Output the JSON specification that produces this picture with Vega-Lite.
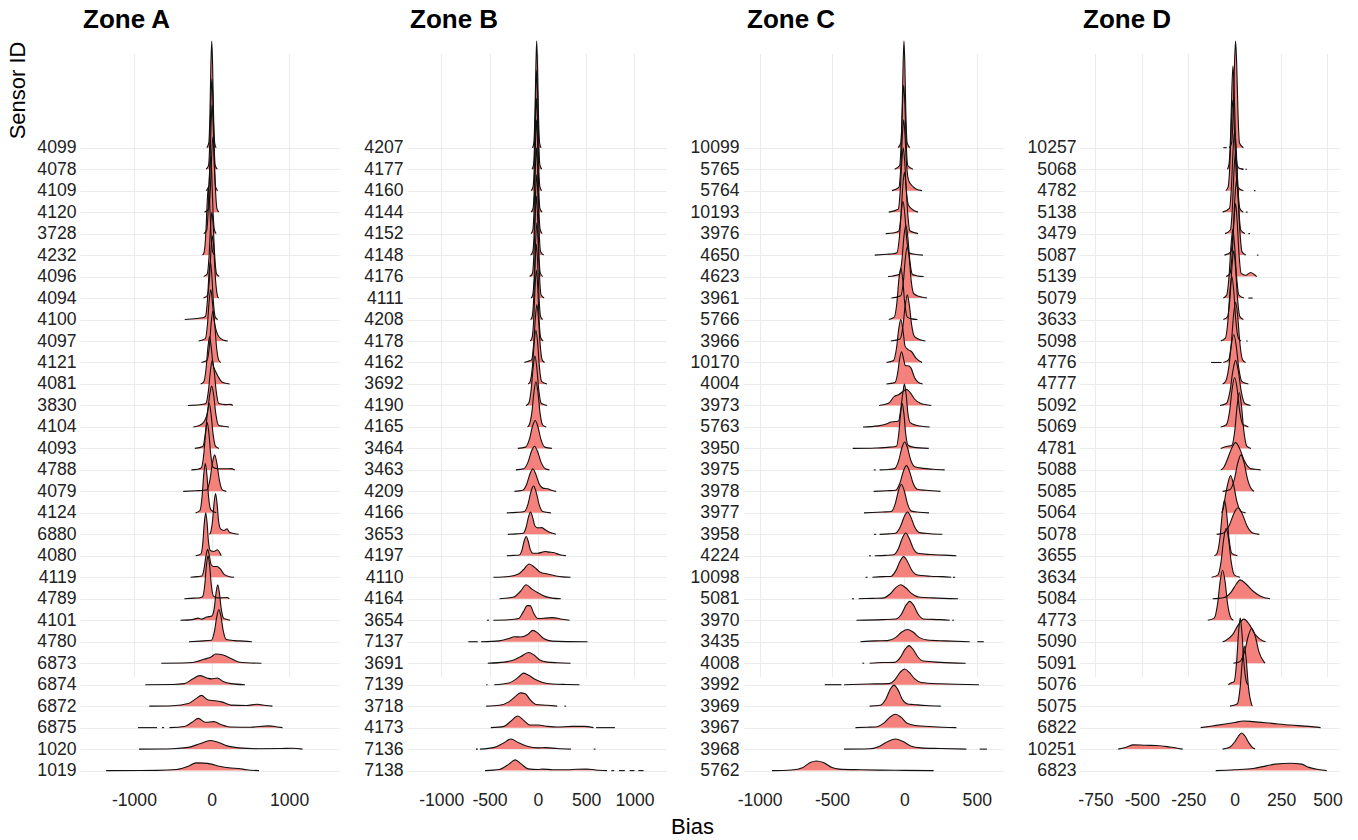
{
"$schema":"https://vega.github.io/schema/vega-lite/v6.json",
"padding":{"left":6,"right":8,"top":6,"bottom":2},
"autosize":{"type":"pad"},
"config":{"font":"Liberation Sans","view":{"stroke":null},
"axis":{"labelFont":"Liberation Sans","labelFontSize":17.6,"labelColor":"#222222","ticks":false,"domain":false,"grid":true,"gridColor":"#EBEBEB","gridWidth":1.1,"titleFont":"Liberation Sans","titleFontSize":22,"titleFontWeight":"normal","titleColor":"#000000"}},
"title":{"text":"Bias","orient":"bottom","anchor":"middle","fontSize":22,"fontWeight":"normal","color":"#000000","font":"Liberation Sans","offset":8,"dx":18},
"spacing":24,
"datasets":{
"A":[
{"s":"4099","x":-60,"d":0},{"s":"4099","x":-35,"d":0.22},{"s":"4099","x":-20,"d":1.61},{"s":"4099","x":-8,"d":3.88},{"s":"4099","x":3,"d":4.95},{"s":"4099","x":14,"d":3.88},{"s":"4099","x":26,"d":1.61},{"s":"4099","x":41,"d":0.22},{"s":"4099","x":60,"d":0},
{"s":"4078","x":-70,"d":0},{"s":"4078","x":-38,"d":0.18},{"s":"4078","x":-21,"d":1.37},{"s":"4078","x":-7,"d":3.29},{"s":"4078","x":5,"d":4.2},{"s":"4078","x":17,"d":3.29},{"s":"4078","x":31,"d":1.37},{"s":"4078","x":48,"d":0.18},{"s":"4078","x":75,"d":0},
{"s":"4109","x":-70,"d":0},{"s":"4109","x":-37,"d":0.18},{"s":"4109","x":-19,"d":1.3},{"s":"4109","x":-5,"d":3.13},{"s":"4109","x":8,"d":4},{"s":"4109","x":21,"d":3.13},{"s":"4109","x":35,"d":1.3},{"s":"4109","x":53,"d":0.18},{"s":"4109","x":80,"d":0},
{"s":"4120","x":-90,"d":0},{"s":"4120","x":-35,"d":0.15},{"s":"4120","x":-14,"d":1.14},{"s":"4120","x":3,"d":2.74},{"s":"4120","x":18,"d":3.5},{"s":"4120","x":33,"d":2.74},{"s":"4120","x":50,"d":1.14},{"s":"4120","x":71,"d":0.15},{"s":"4120","x":95,"d":0},
{"s":"3728","x":-100,"d":0},{"s":"3728","x":-62,"d":0.16},{"s":"3728","x":-42,"d":1.17},{"s":"3728","x":-26,"d":2.82},{"s":"3728","x":-12,"d":3.6},{"s":"3728","x":2,"d":2.82},{"s":"3728","x":18,"d":1.17},{"s":"3728","x":38,"d":0.16},{"s":"3728","x":60,"d":0},
{"s":"4232","x":-115,"d":0},{"s":"4232","x":-95,"d":0.14},{"s":"4232","x":-73,"d":1.04},{"s":"4232","x":-55,"d":2.51},{"s":"4232","x":-40,"d":3.2},{"s":"4232","x":-25,"d":2.51},{"s":"4232","x":-7,"d":1.04},{"s":"4232","x":15,"d":0.14},{"s":"4232","x":45,"d":0},
{"s":"4096","x":-100,"d":0},{"s":"4096","x":-55,"d":0.13},{"s":"4096","x":-31,"d":0.98},{"s":"4096","x":-12,"d":2.35},{"s":"4096","x":5,"d":3},{"s":"4096","x":22,"d":2.35},{"s":"4096","x":41,"d":0.98},{"s":"4096","x":65,"d":0.13},{"s":"4096","x":100,"d":0},
{"s":"4094","x":-105,"d":0},{"s":"4094","x":-51,"d":0.13},{"s":"4094","x":-26,"d":0.94},{"s":"4094","x":-6,"d":2.27},{"s":"4094","x":12,"d":2.9},{"s":"4094","x":30,"d":2.27},{"s":"4094","x":50,"d":0.94},{"s":"4094","x":75,"d":0.13},{"s":"4094","x":90,"d":0},
{"s":"4100","x":-345,"d":0},{"s":"4100","x":-220,"d":0.04},{"s":"4100","x":-115,"d":0.08},{"s":"4100","x":-78,"d":0.15},{"s":"4100","x":-53,"d":0.88},{"s":"4100","x":-33,"d":2.11},{"s":"4100","x":-15,"d":2.7},{"s":"4100","x":3,"d":2.11},{"s":"4100","x":23,"d":0.88},{"s":"4100","x":48,"d":0.12},{"s":"4100","x":80,"d":0},
{"s":"4097","x":-165,"d":0},{"s":"4097","x":-80,"d":0.11},{"s":"4097","x":-52,"d":0.78},{"s":"4097","x":-30,"d":1.88},{"s":"4097","x":-10,"d":2.4},{"s":"4097","x":10,"d":1.88},{"s":"4097","x":32,"d":1},{"s":"4097","x":60,"d":0.5},{"s":"4097","x":95,"d":0.2},{"s":"4097","x":150,"d":0.05},{"s":"4097","x":210,"d":0},
{"s":"4121","x":-130,"d":0},{"s":"4121","x":-57,"d":0.11},{"s":"4121","x":-27,"d":0.78},{"s":"4121","x":-3,"d":1.88},{"s":"4121","x":18,"d":2.4},{"s":"4121","x":39,"d":1.88},{"s":"4121","x":63,"d":0.78},{"s":"4121","x":93,"d":0.11},{"s":"4121","x":120,"d":0},
{"s":"4081","x":-140,"d":0},{"s":"4081","x":-100,"d":0.1},{"s":"4081","x":-70,"d":0.72},{"s":"4081","x":-46,"d":1.72},{"s":"4081","x":-25,"d":2.2},{"s":"4081","x":-4,"d":1.72},{"s":"4081","x":20,"d":0.9},{"s":"4081","x":50,"d":0.6},{"s":"4081","x":85,"d":0.35},{"s":"4081","x":140,"d":0.08},{"s":"4081","x":235,"d":0},
{"s":"3830","x":-305,"d":0},{"s":"3830","x":-150,"d":0.03},{"s":"3830","x":-73,"d":0.09},{"s":"3830","x":-40,"d":0.68},{"s":"3830","x":-13,"d":1.64},{"s":"3830","x":10,"d":2.1},{"s":"3830","x":33,"d":1.64},{"s":"3830","x":60,"d":0.68},{"s":"3830","x":93,"d":0.09},{"s":"3830","x":180,"d":0.04},{"s":"3830","x":245,"d":0.05},{"s":"3830","x":275,"d":0},
{"s":"4104","x":-235,"d":0},{"s":"4104","x":-150,"d":0.08},{"s":"4104","x":-86,"d":0.3},{"s":"4104","x":-51,"d":0.7},{"s":"4104","x":-23,"d":1.5},{"s":"4104","x":2,"d":1.9},{"s":"4104","x":27,"d":1.5},{"s":"4104","x":55,"d":0.62},{"s":"4104","x":90,"d":0.08},{"s":"4104","x":150,"d":0.03},{"s":"4104","x":225,"d":0},
{"s":"4093","x":-215,"d":0},{"s":"4093","x":-113,"d":0.09},{"s":"4093","x":-80,"d":0.68},{"s":"4093","x":-53,"d":1.64},{"s":"4093","x":-30,"d":2.1},{"s":"4093","x":-7,"d":1.64},{"s":"4093","x":20,"d":0.68},{"s":"4093","x":53,"d":0.09},{"s":"4093","x":95,"d":0},
{"s":"4788","x":-260,"d":0},{"s":"4788","x":-180,"d":0.03},{"s":"4788","x":-130,"d":0.1},{"s":"4788","x":-100,"d":0.72},{"s":"4788","x":-76,"d":1.72},{"s":"4788","x":-55,"d":2.2},{"s":"4788","x":-34,"d":1.72},{"s":"4788","x":-10,"d":0.72},{"s":"4788","x":20,"d":0.12},{"s":"4788","x":80,"d":0.05},{"s":"4788","x":200,"d":0.05},{"s":"4788","x":250,"d":0.06},{"s":"4788","x":300,"d":0},
{"s":"4079","x":-365,"d":0},{"s":"4079","x":-200,"d":0.03},{"s":"4079","x":-100,"d":0.05},{"s":"4079","x":-60,"d":0.07},{"s":"4079","x":-20,"d":0.55},{"s":"4079","x":12,"d":1.33},{"s":"4079","x":40,"d":1.7},{"s":"4079","x":68,"d":1.33},{"s":"4079","x":100,"d":0.55},{"s":"4079","x":140,"d":0.07},{"s":"4079","x":190,"d":0},
{"s":"4124","x":-205,"d":0},{"s":"4124","x":-150,"d":0.1},{"s":"4124","x":-122,"d":0.75},{"s":"4124","x":-100,"d":1.8},{"s":"4124","x":-80,"d":2.3},{"s":"4124","x":-60,"d":1.8},{"s":"4124","x":-38,"d":0.75},{"s":"4124","x":-10,"d":0.15},{"s":"4124","x":30,"d":0.05},{"s":"4124","x":60,"d":0},
{"s":"6880","x":-25,"d":0},{"s":"6880","x":-13,"d":0.08},{"s":"6880","x":13,"d":0.62},{"s":"6880","x":34,"d":1.49},{"s":"6880","x":52,"d":1.9},{"s":"6880","x":70,"d":1.49},{"s":"6880","x":91,"d":0.62},{"s":"6880","x":117,"d":0.25},{"s":"6880","x":160,"d":0.18},{"s":"6880","x":200,"d":0.26},{"s":"6880","x":230,"d":0.1},{"s":"6880","x":290,"d":0.04},{"s":"6880","x":350,"d":0},
{"s":"4080","x":-205,"d":0},{"s":"4080","x":-135,"d":0.09},{"s":"4080","x":-111,"d":0.65},{"s":"4080","x":-92,"d":1.57},{"s":"4080","x":-75,"d":2},{"s":"4080","x":-58,"d":1.57},{"s":"4080","x":-39,"d":0.65},{"s":"4080","x":-15,"d":0.25},{"s":"4080","x":30,"d":0.2},{"s":"4080","x":75,"d":0.28},{"s":"4080","x":105,"d":0.15},{"s":"4080","x":125,"d":0},
{"s":"4119","x":-270,"d":0},{"s":"4119","x":-180,"d":0.03},{"s":"4119","x":-125,"d":0.06},{"s":"4119","x":-95,"d":0.42},{"s":"4119","x":-71,"d":1.02},{"s":"4119","x":-50,"d":1.3},{"s":"4119","x":-29,"d":1.02},{"s":"4119","x":-5,"d":0.6},{"s":"4119","x":25,"d":0.5},{"s":"4119","x":70,"d":0.5},{"s":"4119","x":110,"d":0.4},{"s":"4119","x":160,"d":0.15},{"s":"4119","x":220,"d":0.04},{"s":"4119","x":290,"d":0},
{"s":"4789","x":-350,"d":0},{"s":"4789","x":-220,"d":0.03},{"s":"4789","x":-150,"d":0.05},{"s":"4789","x":-115,"d":0.09},{"s":"4789","x":-87,"d":0.65},{"s":"4789","x":-65,"d":1.57},{"s":"4789","x":-45,"d":2},{"s":"4789","x":-25,"d":1.57},{"s":"4789","x":-3,"d":0.65},{"s":"4789","x":25,"d":0.12},{"s":"4789","x":80,"d":0.04},{"s":"4789","x":200,"d":0.06},{"s":"4789","x":230,"d":0},
{"s":"4101","x":-400,"d":0},{"s":"4101","x":-250,"d":0.03},{"s":"4101","x":-170,"d":0.1},{"s":"4101","x":-130,"d":0.05},{"s":"4101","x":-60,"d":0.15},{"s":"4101","x":5,"d":0.2},{"s":"4101","x":35,"d":0.55},{"s":"4101","x":59,"d":1.29},{"s":"4101","x":80,"d":1.65},{"s":"4101","x":101,"d":1.29},{"s":"4101","x":125,"d":0.54},{"s":"4101","x":155,"d":0.1},{"s":"4101","x":190,"d":0.05},{"s":"4101","x":240,"d":0},
{"s":"4780","x":-290,"d":0},{"s":"4780","x":-150,"d":0.03},{"s":"4780","x":0,"d":0.07},{"s":"4780","x":38,"d":0.49},{"s":"4780","x":68,"d":1.17},{"s":"4780","x":95,"d":1.5},{"s":"4780","x":122,"d":1.17},{"s":"4780","x":152,"d":0.49},{"s":"4780","x":190,"d":0.1},{"s":"4780","x":300,"d":0.05},{"s":"4780","x":420,"d":0.03},{"s":"4780","x":520,"d":0},
{"s":"6873","x":-647,"d":0},{"s":"6873","x":-300,"d":0.02},{"s":"6873","x":-185,"d":0.08},{"s":"6873","x":-100,"d":0.18},{"s":"6873","x":0,"d":0.3},{"s":"6873","x":50,"d":0.43},{"s":"6873","x":150,"d":0.38},{"s":"6873","x":250,"d":0.22},{"s":"6873","x":350,"d":0.06},{"s":"6873","x":450,"d":0.02},{"s":"6873","x":643,"d":0},
{"s":"6874","x":-853,"d":0},{"s":"6874","x":-500,"d":0.01},{"s":"6874","x":-350,"d":0.05},{"s":"6874","x":-250,"d":0.25},{"s":"6874","x":-150,"d":0.42},{"s":"6874","x":-50,"d":0.3},{"s":"6874","x":0,"d":0.27},{"s":"6874","x":75,"d":0.31},{"s":"6874","x":150,"d":0.15},{"s":"6874","x":250,"d":0.05},{"s":"6874","x":431,"d":0},
{"s":"6872","x":-802,"d":0},{"s":"6872","x":-500,"d":0.02},{"s":"6872","x":-300,"d":0.12},{"s":"6872","x":-200,"d":0.35},{"s":"6872","x":-130,"d":0.5},{"s":"6872","x":-50,"d":0.3},{"s":"6872","x":50,"d":0.25},{"s":"6872","x":130,"d":0.2},{"s":"6872","x":250,"d":0.05},{"s":"6872","x":450,"d":0.03},{"s":"6872","x":590,"d":0.09},{"s":"6872","x":700,"d":0.03},{"s":"6872","x":785,"d":0},
{"s":"6875","x":-543,"d":0},{"s":"6875","x":-350,"d":0.05},{"s":"6875","x":-250,"d":0.25},{"s":"6875","x":-170,"d":0.43},{"s":"6875","x":-80,"d":0.25},{"s":"6875","x":30,"d":0.28},{"s":"6875","x":120,"d":0.15},{"s":"6875","x":250,"d":0.03},{"s":"6875","x":500,"d":0.02},{"s":"6875","x":740,"d":0.08},{"s":"6875","x":850,"d":0.03},{"s":"6875","x":915,"d":0},
{"s":"6875","g":1,"x":-948,"d":0},{"s":"6875","g":1,"x":-702,"d":0},{"s":"6875","g":2,"x":-640,"d":0},{"s":"6875","g":2,"x":-610,"d":0},
{"s":"1020","x":-935,"d":0},{"s":"1020","x":-500,"d":0.02},{"s":"1020","x":-300,"d":0.08},{"s":"1020","x":-150,"d":0.25},{"s":"1020","x":-13,"d":0.4},{"s":"1020","x":100,"d":0.3},{"s":"1020","x":200,"d":0.15},{"s":"1020","x":350,"d":0.06},{"s":"1020","x":600,"d":0.02},{"s":"1020","x":900,"d":0.03},{"s":"1020","x":1050,"d":0.04},{"s":"1020","x":1173,"d":0},
{"s":"1019","x":-1358,"d":0},{"s":"1019","x":-700,"d":0.01},{"s":"1019","x":-450,"d":0.05},{"s":"1019","x":-300,"d":0.2},{"s":"1019","x":-200,"d":0.36},{"s":"1019","x":-100,"d":0.35},{"s":"1019","x":0,"d":0.3},{"s":"1019","x":100,"d":0.2},{"s":"1019","x":250,"d":0.12},{"s":"1019","x":350,"d":0.1},{"s":"1019","x":450,"d":0.04},{"s":"1019","x":612,"d":0}
],
"B":[
{"s":"4207","x":-56,"d":0},{"s":"4207","x":-42,"d":0.22},{"s":"4207","x":-30,"d":1.62},{"s":"4207","x":-20,"d":3.89},{"s":"4207","x":-12,"d":4.97},{"s":"4207","x":-4,"d":3.89},{"s":"4207","x":6,"d":1.62},{"s":"4207","x":18,"d":0.22},{"s":"4207","x":34,"d":0},
{"s":"4177","x":-60,"d":0},{"s":"4177","x":-45,"d":0.2},{"s":"4177","x":-32,"d":1.5},{"s":"4177","x":-21,"d":3.6},{"s":"4177","x":-12,"d":4.6},{"s":"4177","x":-3,"d":3.6},{"s":"4177","x":8,"d":1.5},{"s":"4177","x":21,"d":0.2},{"s":"4177","x":40,"d":0},
{"s":"4160","x":-70,"d":0},{"s":"4160","x":-49,"d":0.19},{"s":"4160","x":-35,"d":1.4},{"s":"4160","x":-24,"d":3.37},{"s":"4160","x":-14,"d":4.3},{"s":"4160","x":-4,"d":3.37},{"s":"4160","x":7,"d":1.4},{"s":"4160","x":21,"d":0.19},{"s":"4160","x":40,"d":0},
{"s":"4144","x":-70,"d":0},{"s":"4144","x":-49,"d":0.19},{"s":"4144","x":-35,"d":1.4},{"s":"4144","x":-24,"d":3.37},{"s":"4144","x":-14,"d":4.3},{"s":"4144","x":-4,"d":3.37},{"s":"4144","x":7,"d":1.4},{"s":"4144","x":21,"d":0.19},{"s":"4144","x":45,"d":0},
{"s":"4152","x":-70,"d":0},{"s":"4152","x":-52,"d":0.18},{"s":"4152","x":-37,"d":1.3},{"s":"4152","x":-25,"d":3.13},{"s":"4152","x":-14,"d":4},{"s":"4152","x":-4,"d":3.13},{"s":"4152","x":9,"d":1.3},{"s":"4152","x":24,"d":0.18},{"s":"4152","x":45,"d":0},
{"s":"4148","x":-75,"d":0},{"s":"4148","x":-52,"d":0.17},{"s":"4148","x":-36,"d":1.22},{"s":"4148","x":-23,"d":2.94},{"s":"4148","x":-12,"d":3.75},{"s":"4148","x":-1,"d":2.94},{"s":"4148","x":12,"d":1.22},{"s":"4148","x":28,"d":0.17},{"s":"4148","x":60,"d":0},
{"s":"4176","x":-85,"d":0},{"s":"4176","x":-55,"d":0.17},{"s":"4176","x":-39,"d":1.22},{"s":"4176","x":-26,"d":2.94},{"s":"4176","x":-15,"d":3.75},{"s":"4176","x":-4,"d":2.94},{"s":"4176","x":9,"d":1.22},{"s":"4176","x":25,"d":0.17},{"s":"4176","x":50,"d":0},
{"s":"4111","x":-70,"d":0},{"s":"4111","x":-53,"d":0.15},{"s":"4111","x":-36,"d":1.14},{"s":"4111","x":-22,"d":2.74},{"s":"4111","x":-10,"d":3.5},{"s":"4111","x":2,"d":2.74},{"s":"4111","x":16,"d":1.14},{"s":"4111","x":33,"d":0.15},{"s":"4111","x":65,"d":0},
{"s":"4208","x":-75,"d":0},{"s":"4208","x":-58,"d":0.15},{"s":"4208","x":-41,"d":1.14},{"s":"4208","x":-27,"d":2.74},{"s":"4208","x":-15,"d":3.5},{"s":"4208","x":-3,"d":2.74},{"s":"4208","x":11,"d":1.14},{"s":"4208","x":28,"d":0.15},{"s":"4208","x":50,"d":0},
{"s":"4178","x":-80,"d":0},{"s":"4178","x":-60,"d":0.15},{"s":"4178","x":-42,"d":1.07},{"s":"4178","x":-28,"d":2.58},{"s":"4178","x":-15,"d":3.3},{"s":"4178","x":-2,"d":2.58},{"s":"4178","x":12,"d":1.07},{"s":"4178","x":30,"d":0.15},{"s":"4178","x":55,"d":0},
{"s":"4162","x":-140,"d":0},{"s":"4162","x":-100,"d":0.06},{"s":"4162","x":-65,"d":0.12},{"s":"4162","x":-43,"d":0.88},{"s":"4162","x":-25,"d":2.11},{"s":"4162","x":-10,"d":2.7},{"s":"4162","x":5,"d":2.11},{"s":"4162","x":23,"d":0.88},{"s":"4162","x":45,"d":0.12},{"s":"4162","x":70,"d":0},
{"s":"3692","x":-100,"d":0},{"s":"3692","x":-80,"d":0.11},{"s":"3692","x":-56,"d":0.81},{"s":"3692","x":-37,"d":1.96},{"s":"3692","x":-20,"d":2.5},{"s":"3692","x":-3,"d":1.96},{"s":"3692","x":16,"d":0.81},{"s":"3692","x":40,"d":0.11},{"s":"3692","x":95,"d":0},
{"s":"4190","x":-122,"d":0},{"s":"4190","x":-95,"d":0.1},{"s":"4190","x":-69,"d":0.75},{"s":"4190","x":-48,"d":1.8},{"s":"4190","x":-30,"d":2.3},{"s":"4190","x":-12,"d":1.8},{"s":"4190","x":9,"d":0.75},{"s":"4190","x":35,"d":0.1},{"s":"4190","x":96,"d":0},
{"s":"4165","x":-107,"d":0},{"s":"4165","x":-90,"d":0.09},{"s":"4165","x":-62,"d":0.68},{"s":"4165","x":-40,"d":1.64},{"s":"4165","x":-20,"d":2.1},{"s":"4165","x":0,"d":1.64},{"s":"4165","x":22,"d":0.68},{"s":"4165","x":50,"d":0.09},{"s":"4165","x":86,"d":0},
{"s":"3464","x":-207,"d":0},{"s":"3464","x":-128,"d":0.06},{"s":"3464","x":-88,"d":0.42},{"s":"3464","x":-56,"d":1.02},{"s":"3464","x":-28,"d":1.3},{"s":"3464","x":0,"d":1.02},{"s":"3464","x":32,"d":0.42},{"s":"3464","x":72,"d":0.06},{"s":"3464","x":145,"d":0},
{"s":"3463","x":-228,"d":0},{"s":"3463","x":-147,"d":0.05},{"s":"3463","x":-102,"d":0.36},{"s":"3463","x":-67,"d":0.86},{"s":"3463","x":-35,"d":1.1},{"s":"3463","x":-3,"d":0.86},{"s":"3463","x":33,"d":0.36},{"s":"3463","x":78,"d":0.05},{"s":"3463","x":120,"d":0},
{"s":"4209","x":-242,"d":0},{"s":"4209","x":-157,"d":0.05},{"s":"4209","x":-115,"d":0.34},{"s":"4209","x":-81,"d":0.82},{"s":"4209","x":-52,"d":1.05},{"s":"4209","x":-23,"d":0.82},{"s":"4209","x":11,"d":0.38},{"s":"4209","x":53,"d":0.15},{"s":"4209","x":100,"d":0.12},{"s":"4209","x":150,"d":0.04},{"s":"4209","x":190,"d":0},
{"s":"4166","x":-321,"d":0},{"s":"4166","x":-220,"d":0.02},{"s":"4166","x":-140,"d":0.06},{"s":"4166","x":-102,"d":0.41},{"s":"4166","x":-72,"d":0.98},{"s":"4166","x":-45,"d":1.25},{"s":"4166","x":-18,"d":0.98},{"s":"4166","x":12,"d":0.41},{"s":"4166","x":50,"d":0.06},{"s":"4166","x":135,"d":0},
{"s":"3653","x":-311,"d":0},{"s":"3653","x":-220,"d":0.02},{"s":"3653","x":-151,"d":0.05},{"s":"3653","x":-121,"d":0.34},{"s":"3653","x":-97,"d":0.81},{"s":"3653","x":-76,"d":1.04},{"s":"3653","x":-55,"d":0.81},{"s":"3653","x":-31,"d":0.4},{"s":"3653","x":-1,"d":0.3},{"s":"3653","x":37,"d":0.31},{"s":"3653","x":80,"d":0.2},{"s":"3653","x":130,"d":0.08},{"s":"3653","x":187,"d":0},
{"s":"4197","x":-321,"d":0},{"s":"4197","x":-250,"d":0.02},{"s":"4197","x":-191,"d":0.04},{"s":"4197","x":-163,"d":0.29},{"s":"4197","x":-141,"d":0.7},{"s":"4197","x":-121,"d":0.9},{"s":"4197","x":-101,"d":0.7},{"s":"4197","x":-79,"d":0.3},{"s":"4197","x":-51,"d":0.12},{"s":"4197","x":0,"d":0.12},{"s":"4197","x":76,"d":0.2},{"s":"4197","x":120,"d":0.17},{"s":"4197","x":162,"d":0.15},{"s":"4197","x":220,"d":0.06},{"s":"4197","x":293,"d":0},
{"s":"4110","x":-460,"d":0},{"s":"4110","x":-300,"d":0.04},{"s":"4110","x":-200,"d":0.15},{"s":"4110","x":-150,"d":0.35},{"s":"4110","x":-90,"d":0.62},{"s":"4110","x":-30,"d":0.45},{"s":"4110","x":20,"d":0.25},{"s":"4110","x":100,"d":0.15},{"s":"4110","x":200,"d":0.05},{"s":"4110","x":338,"d":0},
{"s":"4164","x":-397,"d":0},{"s":"4164","x":-250,"d":0.08},{"s":"4164","x":-180,"d":0.35},{"s":"4164","x":-121,"d":0.65},{"s":"4164","x":-60,"d":0.45},{"s":"4164","x":0,"d":0.28},{"s":"4164","x":80,"d":0.1},{"s":"4164","x":150,"d":0.03},{"s":"4164","x":238,"d":0},
{"s":"3654","x":-460,"d":0},{"s":"3654","x":-300,"d":0.02},{"s":"3654","x":-200,"d":0.08},{"s":"3654","x":-150,"d":0.4},{"s":"3654","x":-110,"d":0.68},{"s":"3654","x":-80,"d":0.68},{"s":"3654","x":-40,"d":0.3},{"s":"3654","x":0,"d":0.08},{"s":"3654","x":80,"d":0.1},{"s":"3654","x":150,"d":0.12},{"s":"3654","x":250,"d":0.05},{"s":"3654","x":328,"d":0},
{"s":"3654","g":1,"x":-525,"d":0},{"s":"3654","g":1,"x":-505,"d":0},
{"s":"7137","x":-588,"d":0},{"s":"7137","x":-400,"d":0.04},{"s":"7137","x":-300,"d":0.15},{"s":"7137","x":-243,"d":0.23},{"s":"7137","x":-180,"d":0.22},{"s":"7137","x":-100,"d":0.35},{"s":"7137","x":-52,"d":0.53},{"s":"7137","x":0,"d":0.4},{"s":"7137","x":60,"d":0.15},{"s":"7137","x":150,"d":0.03},{"s":"7137","x":514,"d":0},
{"s":"7137","g":1,"x":-719,"d":0},{"s":"7137","g":1,"x":-622,"d":0},
{"s":"3691","x":-518,"d":0},{"s":"3691","x":-350,"d":0.05},{"s":"3691","x":-250,"d":0.15},{"s":"3691","x":-180,"d":0.3},{"s":"3691","x":-97,"d":0.5},{"s":"3691","x":-40,"d":0.38},{"s":"3691","x":20,"d":0.15},{"s":"3691","x":100,"d":0.05},{"s":"3691","x":200,"d":0.02},{"s":"3691","x":338,"d":0},
{"s":"7139","x":-451,"d":0},{"s":"7139","x":-300,"d":0.08},{"s":"7139","x":-200,"d":0.35},{"s":"7139","x":-149,"d":0.54},{"s":"7139","x":-100,"d":0.45},{"s":"7139","x":-30,"d":0.25},{"s":"7139","x":50,"d":0.1},{"s":"7139","x":150,"d":0.03},{"s":"7139","x":300,"d":0.01},{"s":"7139","x":431,"d":0},
{"s":"7139","g":1,"x":-535,"d":0},{"s":"7139","g":1,"x":-520,"d":0},
{"s":"3718","x":-534,"d":0},{"s":"3718","x":-400,"d":0.04},{"s":"3718","x":-300,"d":0.2},{"s":"3718","x":-220,"d":0.5},{"s":"3718","x":-180,"d":0.62},{"s":"3718","x":-130,"d":0.58},{"s":"3718","x":-80,"d":0.3},{"s":"3718","x":-20,"d":0.08},{"s":"3718","x":100,"d":0.04},{"s":"3718","x":200,"d":0},
{"s":"3718","g":1,"x":275,"d":0},{"s":"3718","g":1,"x":292,"d":0},
{"s":"4173","x":-487,"d":0},{"s":"4173","x":-350,"d":0.06},{"s":"4173","x":-280,"d":0.3},{"s":"4173","x":-207,"d":0.54},{"s":"4173","x":-150,"d":0.35},{"s":"4173","x":-80,"d":0.12},{"s":"4173","x":0,"d":0.12},{"s":"4173","x":100,"d":0.06},{"s":"4173","x":200,"d":0.03},{"s":"4173","x":350,"d":0.06},{"s":"4173","x":480,"d":0.06},{"s":"4173","x":576,"d":0},
{"s":"4173","g":1,"x":603,"d":0},{"s":"4173","g":1,"x":797,"d":0},
{"s":"7136","x":-598,"d":0},{"s":"7136","x":-450,"d":0.08},{"s":"7136","x":-350,"d":0.3},{"s":"7136","x":-280,"d":0.47},{"s":"7136","x":-200,"d":0.3},{"s":"7136","x":-100,"d":0.12},{"s":"7136","x":0,"d":0.06},{"s":"7136","x":80,"d":0.07},{"s":"7136","x":200,"d":0.03},{"s":"7136","x":342,"d":0},
{"s":"7136","g":1,"x":-640,"d":0},{"s":"7136","g":1,"x":-622,"d":0},{"s":"7136","g":2,"x":578,"d":0},{"s":"7136","g":2,"x":596,"d":0},
{"s":"7138","x":-546,"d":0},{"s":"7138","x":-400,"d":0.05},{"s":"7138","x":-300,"d":0.3},{"s":"7138","x":-235,"d":0.5},{"s":"7138","x":-170,"d":0.3},{"s":"7138","x":-100,"d":0.08},{"s":"7138","x":0,"d":0.05},{"s":"7138","x":50,"d":0.07},{"s":"7138","x":150,"d":0.04},{"s":"7138","x":300,"d":0.04},{"s":"7138","x":400,"d":0.06},{"s":"7138","x":500,"d":0.07},{"s":"7138","x":600,"d":0.03},{"s":"7138","x":715,"d":0},
{"s":"7138","g":1,"x":760,"d":0},{"s":"7138","g":1,"x":790,"d":0},{"s":"7138","g":2,"x":840,"d":0},{"s":"7138","g":2,"x":900,"d":0},{"s":"7138","g":3,"x":950,"d":0},{"s":"7138","g":3,"x":1000,"d":0},{"s":"7138","g":4,"x":1040,"d":0},{"s":"7138","g":4,"x":1094,"d":0}
],
"C":[
{"s":"10099","x":-44,"d":0},{"s":"10099","x":-25,"d":0.22},{"s":"10099","x":-16,"d":1.62},{"s":"10099","x":-9,"d":3.89},{"s":"10099","x":-3,"d":4.97},{"s":"10099","x":3,"d":3.89},{"s":"10099","x":10,"d":1.62},{"s":"10099","x":19,"d":0.22},{"s":"10099","x":37,"d":0},
{"s":"5765","x":-67,"d":0},{"s":"5765","x":-33,"d":0.17},{"s":"5765","x":-22,"d":1.27},{"s":"5765","x":-13,"d":3.05},{"s":"5765","x":-5,"d":3.9},{"s":"5765","x":3,"d":3.05},{"s":"5765","x":12,"d":1.27},{"s":"5765","x":23,"d":0.17},{"s":"5765","x":59,"d":0},
{"s":"5764","x":-86,"d":0},{"s":"5764","x":-38,"d":0.15},{"s":"5764","x":-25,"d":1.07},{"s":"5764","x":-14,"d":2.58},{"s":"5764","x":-5,"d":3.3},{"s":"5764","x":4,"d":2.58},{"s":"5764","x":15,"d":1.2},{"s":"5764","x":28,"d":0.5},{"s":"5764","x":50,"d":0.25},{"s":"5764","x":80,"d":0.08},{"s":"5764","x":122,"d":0},
{"s":"10193","x":-108,"d":0},{"s":"10193","x":-43,"d":0.13},{"s":"10193","x":-29,"d":0.98},{"s":"10193","x":-18,"d":2.35},{"s":"10193","x":-8,"d":3},{"s":"10193","x":2,"d":2.35},{"s":"10193","x":13,"d":1.05},{"s":"10193","x":27,"d":0.35},{"s":"10193","x":50,"d":0.15},{"s":"10193","x":94,"d":0},
{"s":"3976","x":-129,"d":0},{"s":"3976","x":-70,"d":0.04},{"s":"3976","x":-38,"d":0.13},{"s":"3976","x":-23,"d":0.93},{"s":"3976","x":-11,"d":2.23},{"s":"3976","x":0,"d":2.85},{"s":"3976","x":11,"d":2.23},{"s":"3976","x":23,"d":0.93},{"s":"3976","x":38,"d":0.13},{"s":"3976","x":94,"d":0},
{"s":"4650","x":-205,"d":0},{"s":"4650","x":-120,"d":0.04},{"s":"4650","x":-80,"d":0.06},{"s":"4650","x":-52,"d":0.11},{"s":"4650","x":-35,"d":0.81},{"s":"4650","x":-22,"d":1.96},{"s":"4650","x":-10,"d":2.5},{"s":"4650","x":2,"d":1.96},{"s":"4650","x":15,"d":0.81},{"s":"4650","x":32,"d":0.11},{"s":"4650","x":70,"d":0.04},{"s":"4650","x":128,"d":0},
{"s":"4623","x":-113,"d":0},{"s":"4623","x":-35,"d":0.11},{"s":"4623","x":-17,"d":0.78},{"s":"4623","x":-3,"d":1.88},{"s":"4623","x":10,"d":2.4},{"s":"4623","x":23,"d":1.88},{"s":"4623","x":37,"d":0.78},{"s":"4623","x":55,"d":0.11},{"s":"4623","x":90,"d":0.03},{"s":"4623","x":133,"d":0},
{"s":"3961","x":-90,"d":0},{"s":"3961","x":-25,"d":0.11},{"s":"3961","x":-7,"d":0.78},{"s":"3961","x":7,"d":1.88},{"s":"3961","x":20,"d":2.4},{"s":"3961","x":33,"d":1.88},{"s":"3961","x":47,"d":0.8},{"s":"3961","x":65,"d":0.2},{"s":"3961","x":100,"d":0.08},{"s":"3961","x":156,"d":0},
{"s":"5766","x":-108,"d":0},{"s":"5766","x":-70,"d":0.11},{"s":"5766","x":-52,"d":0.78},{"s":"5766","x":-38,"d":1.88},{"s":"5766","x":-25,"d":2.4},{"s":"5766","x":-12,"d":1.88},{"s":"5766","x":2,"d":0.78},{"s":"5766","x":20,"d":0.11},{"s":"5766","x":50,"d":0.03},{"s":"5766","x":90,"d":0},
{"s":"3966","x":-94,"d":0},{"s":"3966","x":-30,"d":0.09},{"s":"3966","x":-10,"d":0.7},{"s":"3966","x":6,"d":1.68},{"s":"3966","x":20,"d":2.15},{"s":"3966","x":34,"d":1.68},{"s":"3966","x":50,"d":0.75},{"s":"3966","x":70,"d":0.2},{"s":"3966","x":100,"d":0.08},{"s":"3966","x":145,"d":0},
{"s":"10170","x":-124,"d":0},{"s":"10170","x":-75,"d":0.09},{"s":"10170","x":-55,"d":0.65},{"s":"10170","x":-39,"d":1.57},{"s":"10170","x":-25,"d":2},{"s":"10170","x":-11,"d":1.57},{"s":"10170","x":5,"d":0.75},{"s":"10170","x":25,"d":0.6},{"s":"10170","x":50,"d":0.5},{"s":"10170","x":80,"d":0.2},{"s":"10170","x":122,"d":0},
{"s":"4004","x":-124,"d":0},{"s":"4004","x":-65,"d":0.07},{"s":"4004","x":-47,"d":0.49},{"s":"4004","x":-33,"d":1.17},{"s":"4004","x":-20,"d":1.5},{"s":"4004","x":-7,"d":1.2},{"s":"4004","x":7,"d":0.85},{"s":"4004","x":25,"d":0.85},{"s":"4004","x":45,"d":0.75},{"s":"4004","x":70,"d":0.3},{"s":"4004","x":95,"d":0.08},{"s":"4004","x":126,"d":0},
{"s":"3973","x":-175,"d":0},{"s":"3973","x":-110,"d":0.1},{"s":"3973","x":-70,"d":0.42},{"s":"3973","x":-40,"d":0.5},{"s":"3973","x":0,"d":0.7},{"s":"3973","x":15,"d":0.75},{"s":"3973","x":40,"d":0.6},{"s":"3973","x":70,"d":0.3},{"s":"3973","x":110,"d":0.1},{"s":"3973","x":186,"d":0},
{"s":"5763","x":-286,"d":0},{"s":"5763","x":-180,"d":0.05},{"s":"5763","x":-120,"d":0.15},{"s":"5763","x":-92,"d":0.23},{"s":"5763","x":-60,"d":0.25},{"s":"5763","x":-40,"d":0.28},{"s":"5763","x":-24,"d":0.9},{"s":"5763","x":-11,"d":1.57},{"s":"5763","x":0,"d":2},{"s":"5763","x":11,"d":1.57},{"s":"5763","x":24,"d":0.65},{"s":"5763","x":40,"d":0.2},{"s":"5763","x":80,"d":0.08},{"s":"5763","x":175,"d":0},
{"s":"3950","x":-357,"d":0},{"s":"3950","x":-200,"d":0.02},{"s":"3950","x":-100,"d":0.06},{"s":"3950","x":-55,"d":0.1},{"s":"3950","x":-39,"d":0.68},{"s":"3950","x":-26,"d":1.64},{"s":"3950","x":-15,"d":2.1},{"s":"3950","x":-4,"d":1.64},{"s":"3950","x":9,"d":0.68},{"s":"3950","x":25,"d":0.15},{"s":"3950","x":60,"d":0.06},{"s":"3950","x":168,"d":0},
{"s":"3975","x":-171,"d":0},{"s":"3975","x":-110,"d":0.02},{"s":"3975","x":-68,"d":0.06},{"s":"3975","x":-40,"d":0.42},{"s":"3975","x":-18,"d":1.02},{"s":"3975","x":2,"d":1.3},{"s":"3975","x":22,"d":1.02},{"s":"3975","x":44,"d":0.45},{"s":"3975","x":72,"d":0.15},{"s":"3975","x":130,"d":0.07},{"s":"3975","x":200,"d":0.03},{"s":"3975","x":278,"d":0},
{"s":"3975","g":1,"x":-212,"d":0},{"s":"3975","g":1,"x":-198,"d":0},
{"s":"3978","x":-212,"d":0},{"s":"3978","x":-120,"d":0.03},{"s":"3978","x":-61,"d":0.05},{"s":"3978","x":-31,"d":0.39},{"s":"3978","x":-7,"d":0.94},{"s":"3978","x":14,"d":1.2},{"s":"3978","x":35,"d":0.94},{"s":"3978","x":59,"d":0.4},{"s":"3978","x":89,"d":0.1},{"s":"3978","x":150,"d":0.05},{"s":"3978","x":249,"d":0},
{"s":"3977","x":-279,"d":0},{"s":"3977","x":-150,"d":0.04},{"s":"3977","x":-91,"d":0.06},{"s":"3977","x":-63,"d":0.43},{"s":"3977","x":-41,"d":1.03},{"s":"3977","x":-21,"d":1.32},{"s":"3977","x":-1,"d":1.03},{"s":"3977","x":21,"d":0.43},{"s":"3977","x":49,"d":0.08},{"s":"3977","x":100,"d":0.03},{"s":"3977","x":170,"d":0},
{"s":"3958","x":-171,"d":0},{"s":"3958","x":-110,"d":0.02},{"s":"3958","x":-62,"d":0.05},{"s":"3958","x":-29,"d":0.34},{"s":"3958","x":-2,"d":0.81},{"s":"3958","x":21,"d":1.04},{"s":"3958","x":44,"d":0.81},{"s":"3958","x":71,"d":0.34},{"s":"3958","x":104,"d":0.08},{"s":"3958","x":180,"d":0.03},{"s":"3958","x":262,"d":0},
{"s":"3958","g":1,"x":-210,"d":0},{"s":"3958","g":1,"x":-195,"d":0},
{"s":"4224","x":-205,"d":0},{"s":"4224","x":-130,"d":0.02},{"s":"4224","x":-74,"d":0.05},{"s":"4224","x":-41,"d":0.34},{"s":"4224","x":-14,"d":0.83},{"s":"4224","x":9,"d":1.06},{"s":"4224","x":32,"d":0.83},{"s":"4224","x":59,"d":0.38},{"s":"4224","x":92,"d":0.12},{"s":"4224","x":180,"d":0.06},{"s":"4224","x":280,"d":0.03},{"s":"4224","x":359,"d":0},
{"s":"4224","g":1,"x":-245,"d":0},{"s":"4224","g":1,"x":-232,"d":0},
{"s":"10098","x":-221,"d":0},{"s":"10098","x":-150,"d":0.03},{"s":"10098","x":-95,"d":0.04},{"s":"10098","x":-59,"d":0.31},{"s":"10098","x":-30,"d":0.75},{"s":"10098","x":-5,"d":0.96},{"s":"10098","x":20,"d":0.75},{"s":"10098","x":49,"d":0.35},{"s":"10098","x":85,"d":0.12},{"s":"10098","x":180,"d":0.05},{"s":"10098","x":260,"d":0.03},{"s":"10098","x":324,"d":0},
{"s":"10098","g":1,"x":-268,"d":0},{"s":"10098","g":1,"x":-255,"d":0},{"s":"10098","g":2,"x":335,"d":0},{"s":"10098","g":2,"x":350,"d":0},
{"s":"5081","x":-316,"d":0},{"s":"5081","x":-220,"d":0.02},{"s":"5081","x":-151,"d":0.03},{"s":"5081","x":-101,"d":0.21},{"s":"5081","x":-61,"d":0.51},{"s":"5081","x":-26,"d":0.65},{"s":"5081","x":9,"d":0.51},{"s":"5081","x":49,"d":0.25},{"s":"5081","x":99,"d":0.08},{"s":"5081","x":200,"d":0.04},{"s":"5081","x":370,"d":0},
{"s":"5081","g":1,"x":-362,"d":0},{"s":"5081","g":1,"x":-348,"d":0},
{"s":"3970","x":-331,"d":0},{"s":"3970","x":-150,"d":0.03},{"s":"3970","x":-58,"d":0.06},{"s":"3970","x":-20,"d":0.29},{"s":"3970","x":10,"d":0.69},{"s":"3970","x":37,"d":0.88},{"s":"3970","x":64,"d":0.69},{"s":"3970","x":94,"d":0.29},{"s":"3970","x":132,"d":0.06},{"s":"3970","x":250,"d":0.03},{"s":"3970","x":313,"d":0},
{"s":"3970","g":1,"x":330,"d":0},{"s":"3970","g":1,"x":342,"d":0},
{"s":"3435","x":-304,"d":0},{"s":"3435","x":-200,"d":0.04},{"s":"3435","x":-117,"d":0.05},{"s":"3435","x":-62,"d":0.19},{"s":"3435","x":-18,"d":0.45},{"s":"3435","x":21,"d":0.57},{"s":"3435","x":60,"d":0.45},{"s":"3435","x":104,"d":0.19},{"s":"3435","x":159,"d":0.08},{"s":"3435","x":280,"d":0.04},{"s":"3435","x":451,"d":0},
{"s":"3435","g":1,"x":504,"d":0},{"s":"3435","g":1,"x":548,"d":0},
{"s":"4008","x":-240,"d":0},{"s":"4008","x":-150,"d":0.03},{"s":"4008","x":-68,"d":0.04},{"s":"4008","x":-28,"d":0.27},{"s":"4008","x":4,"d":0.64},{"s":"4008","x":32,"d":0.82},{"s":"4008","x":60,"d":0.64},{"s":"4008","x":92,"d":0.3},{"s":"4008","x":132,"d":0.1},{"s":"4008","x":250,"d":0.04},{"s":"4008","x":423,"d":0},
{"s":"4008","g":1,"x":-290,"d":0},{"s":"4008","g":1,"x":-278,"d":0},
{"s":"3992","x":-417,"d":0},{"s":"3992","x":-250,"d":0.03},{"s":"3992","x":-110,"d":0.05},{"s":"3992","x":-65,"d":0.24},{"s":"3992","x":-30,"d":0.57},{"s":"3992","x":2,"d":0.73},{"s":"3992","x":34,"d":0.57},{"s":"3992","x":70,"d":0.28},{"s":"3992","x":115,"d":0.1},{"s":"3992","x":250,"d":0.04},{"s":"3992","x":515,"d":0},
{"s":"3992","g":1,"x":-550,"d":0},{"s":"3992","g":1,"x":-435,"d":0},
{"s":"3969","x":-240,"d":0},{"s":"3969","x":-167,"d":0.04},{"s":"3969","x":-129,"d":0.32},{"s":"3969","x":-99,"d":0.77},{"s":"3969","x":-72,"d":0.98},{"s":"3969","x":-45,"d":0.77},{"s":"3969","x":-15,"d":0.32},{"s":"3969","x":23,"d":0.1},{"s":"3969","x":60,"d":0.08},{"s":"3969","x":150,"d":0.03},{"s":"3969","x":251,"d":0},
{"s":"3967","x":-338,"d":0},{"s":"3967","x":-260,"d":0.02},{"s":"3967","x":-200,"d":0.03},{"s":"3967","x":-145,"d":0.2},{"s":"3967","x":-100,"d":0.49},{"s":"3967","x":-62,"d":0.62},{"s":"3967","x":-24,"d":0.49},{"s":"3967","x":20,"d":0.2},{"s":"3967","x":75,"d":0.1},{"s":"3967","x":200,"d":0.04},{"s":"3967","x":359,"d":0},
{"s":"3968","x":-417,"d":0},{"s":"3968","x":-237,"d":0.02},{"s":"3968","x":-167,"d":0.15},{"s":"3968","x":-111,"d":0.37},{"s":"3968","x":-62,"d":0.47},{"s":"3968","x":-13,"d":0.37},{"s":"3968","x":43,"d":0.15},{"s":"3968","x":113,"d":0.06},{"s":"3968","x":250,"d":0.03},{"s":"3968","x":428,"d":0},
{"s":"3968","g":1,"x":520,"d":0},{"s":"3968","g":1,"x":570,"d":0},
{"s":"5762","x":-914,"d":0},{"s":"5762","x":-780,"d":0.03},{"s":"5762","x":-700,"d":0.15},{"s":"5762","x":-650,"d":0.38},{"s":"5762","x":-608,"d":0.45},{"s":"5762","x":-560,"d":0.38},{"s":"5762","x":-500,"d":0.14},{"s":"5762","x":-450,"d":0.07},{"s":"5762","x":-300,"d":0.04},{"s":"5762","x":-150,"d":0.02},{"s":"5762","x":0,"d":0.01},{"s":"5762","x":202,"d":0}
],
"D":[
{"s":"10257","x":-29,"d":0},{"s":"10257","x":-16,"d":0.22},{"s":"10257","x":-8,"d":1.62},{"s":"10257","x":-1,"d":3.89},{"s":"10257","x":5,"d":4.97},{"s":"10257","x":11,"d":3.89},{"s":"10257","x":18,"d":1.62},{"s":"10257","x":26,"d":0.22},{"s":"10257","x":47,"d":0},
{"s":"10257","g":1,"x":-61,"d":0},{"s":"10257","g":1,"x":-43,"d":0},
{"s":"5068","x":-39,"d":0},{"s":"5068","x":-31,"d":0.21},{"s":"5068","x":-22,"d":1.56},{"s":"5068","x":-15,"d":3.76},{"s":"5068","x":-9,"d":4.8},{"s":"5068","x":-3,"d":3.76},{"s":"5068","x":4,"d":1.56},{"s":"5068","x":13,"d":0.21},{"s":"5068","x":25,"d":0.04},{"s":"5068","x":47,"d":0},
{"s":"5068","g":1,"x":35,"d":0},{"s":"5068","g":1,"x":48,"d":0},{"s":"5068","g":2,"x":58,"d":0},{"s":"5068","g":2,"x":66,"d":0},
{"s":"4782","x":-48,"d":0},{"s":"4782","x":-35,"d":0.18},{"s":"4782","x":-25,"d":1.37},{"s":"4782","x":-17,"d":3.29},{"s":"4782","x":-10,"d":4.2},{"s":"4782","x":-3,"d":3.29},{"s":"4782","x":5,"d":1.37},{"s":"4782","x":15,"d":0.18},{"s":"4782","x":47,"d":0},
{"s":"4782","g":1,"x":105,"d":0},{"s":"4782","g":1,"x":112,"d":0},
{"s":"5138","x":-65,"d":0},{"s":"5138","x":-28,"d":0.17},{"s":"5138","x":-17,"d":1.24},{"s":"5138","x":-8,"d":2.98},{"s":"5138","x":0,"d":3.8},{"s":"5138","x":8,"d":2.98},{"s":"5138","x":17,"d":1.24},{"s":"5138","x":28,"d":0.17},{"s":"5138","x":47,"d":0},
{"s":"5138","g":1,"x":60,"d":0},{"s":"5138","g":1,"x":70,"d":0},
{"s":"3479","x":-52,"d":0},{"s":"3479","x":-23,"d":0.17},{"s":"3479","x":-12,"d":1.24},{"s":"3479","x":-3,"d":2.98},{"s":"3479","x":5,"d":3.8},{"s":"3479","x":13,"d":2.98},{"s":"3479","x":22,"d":1.24},{"s":"3479","x":33,"d":0.17},{"s":"3479","x":56,"d":0},
{"s":"3479","g":1,"x":74,"d":0},{"s":"3479","g":1,"x":82,"d":0},
{"s":"5087","x":-55,"d":0},{"s":"5087","x":-20,"d":0.15},{"s":"5087","x":-8,"d":1.14},{"s":"5087","x":2,"d":2.74},{"s":"5087","x":10,"d":3.5},{"s":"5087","x":18,"d":2.74},{"s":"5087","x":28,"d":1.14},{"s":"5087","x":40,"d":0.15},{"s":"5087","x":60,"d":0},
{"s":"5087","g":1,"x":120,"d":0},{"s":"5087","g":1,"x":128,"d":0},
{"s":"5139","x":-46,"d":0},{"s":"5139","x":-25,"d":0.15},{"s":"5139","x":-13,"d":1.1},{"s":"5139","x":-3,"d":2.66},{"s":"5139","x":5,"d":3.4},{"s":"5139","x":13,"d":2.66},{"s":"5139","x":23,"d":1.1},{"s":"5139","x":35,"d":0.15},{"s":"5139","x":60,"d":0.06},{"s":"5139","x":86,"d":0.19},{"s":"5139","x":105,"d":0.1},{"s":"5139","x":119,"d":0},
{"s":"5079","x":-61,"d":0},{"s":"5079","x":-43,"d":0.14},{"s":"5079","x":-30,"d":1.04},{"s":"5079","x":-19,"d":2.51},{"s":"5079","x":-10,"d":3.2},{"s":"5079","x":-1,"d":2.51},{"s":"5079","x":10,"d":1.04},{"s":"5079","x":23,"d":0.14},{"s":"5079","x":50,"d":0},
{"s":"5079","g":1,"x":74,"d":0},{"s":"5079","g":1,"x":97,"d":0},
{"s":"3633","x":-61,"d":0},{"s":"3633","x":-38,"d":0.14},{"s":"3633","x":-25,"d":1.04},{"s":"3633","x":-14,"d":2.51},{"s":"3633","x":-5,"d":3.2},{"s":"3633","x":4,"d":2.51},{"s":"3633","x":15,"d":1.04},{"s":"3633","x":28,"d":0.14},{"s":"3633","x":47,"d":0},
{"s":"5098","x":-75,"d":0},{"s":"5098","x":-50,"d":0.13},{"s":"5098","x":-36,"d":0.98},{"s":"5098","x":-25,"d":2.35},{"s":"5098","x":-15,"d":3},{"s":"5098","x":-5,"d":2.35},{"s":"5098","x":6,"d":0.98},{"s":"5098","x":20,"d":0.13},{"s":"5098","x":35,"d":0},
{"s":"5098","g":1,"x":62,"d":0},{"s":"5098","g":1,"x":70,"d":0},
{"s":"4776","x":-61,"d":0},{"s":"4776","x":-33,"d":0.12},{"s":"4776","x":-18,"d":0.91},{"s":"4776","x":-6,"d":2.19},{"s":"4776","x":5,"d":2.8},{"s":"4776","x":16,"d":2.19},{"s":"4776","x":28,"d":0.91},{"s":"4776","x":43,"d":0.12},{"s":"4776","x":59,"d":0},
{"s":"4776","g":1,"x":-127,"d":0},{"s":"4776","g":1,"x":-70,"d":0},
{"s":"4777","x":-65,"d":0},{"s":"4777","x":-50,"d":0.1},{"s":"4777","x":-32,"d":0.75},{"s":"4777","x":-18,"d":1.8},{"s":"4777","x":-5,"d":2.3},{"s":"4777","x":8,"d":1.8},{"s":"4777","x":22,"d":0.75},{"s":"4777","x":40,"d":0.1},{"s":"4777","x":74,"d":0},
{"s":"5092","x":-79,"d":0},{"s":"5092","x":-45,"d":0.09},{"s":"5092","x":-25,"d":0.68},{"s":"5092","x":-9,"d":1.64},{"s":"5092","x":5,"d":2.1},{"s":"5092","x":19,"d":1.64},{"s":"5092","x":35,"d":0.68},{"s":"5092","x":55,"d":0.09},{"s":"5092","x":86,"d":0},
{"s":"5069","x":-75,"d":0},{"s":"5069","x":-45,"d":0.1},{"s":"5069","x":-27,"d":0.75},{"s":"5069","x":-13,"d":1.8},{"s":"5069","x":0,"d":2.3},{"s":"5069","x":13,"d":1.8},{"s":"5069","x":27,"d":0.75},{"s":"5069","x":45,"d":0.1},{"s":"5069","x":60,"d":0.06},{"s":"5069","x":74,"d":0},
{"s":"4781","x":-75,"d":0},{"s":"4781","x":-40,"d":0.1},{"s":"4781","x":-15,"d":0.15},{"s":"4781","x":1,"d":0.85},{"s":"4781","x":14,"d":2.04},{"s":"4781","x":25,"d":2.6},{"s":"4781","x":36,"d":2.04},{"s":"4781","x":49,"d":0.85},{"s":"4781","x":65,"d":0.11},{"s":"4781","x":88,"d":0},
{"s":"5088","x":-75,"d":0},{"s":"5088","x":-60,"d":0.1},{"s":"5088","x":-43,"d":0.41},{"s":"5088","x":-17,"d":0.99},{"s":"5088","x":5,"d":1.27},{"s":"5088","x":27,"d":0.99},{"s":"5088","x":53,"d":0.41},{"s":"5088","x":85,"d":0.06},{"s":"5088","x":110,"d":0.03},{"s":"5088","x":140,"d":0},
{"s":"5085","x":-65,"d":0},{"s":"5085","x":-26,"d":0.07},{"s":"5085","x":-2,"d":0.55},{"s":"5085","x":17,"d":1.33},{"s":"5085","x":34,"d":1.7},{"s":"5085","x":51,"d":1.33},{"s":"5085","x":70,"d":0.55},{"s":"5085","x":94,"d":0.07},{"s":"5085","x":105,"d":0},
{"s":"5064","x":-70,"d":0},{"s":"5064","x":-60,"d":0.25},{"s":"5064","x":-50,"d":0.8},{"s":"5064","x":-37,"d":1.36},{"s":"5064","x":-22,"d":1.74},{"s":"5064","x":-7,"d":1.36},{"s":"5064","x":11,"d":0.57},{"s":"5064","x":33,"d":0.08},{"s":"5064","x":59,"d":0},
{"s":"5078","x":-97,"d":0},{"s":"5078","x":-62,"d":0.05},{"s":"5078","x":-30,"d":0.4},{"s":"5078","x":-4,"d":0.97},{"s":"5078","x":18,"d":1.24},{"s":"5078","x":40,"d":0.97},{"s":"5078","x":66,"d":0.4},{"s":"5078","x":98,"d":0.06},{"s":"5078","x":133,"d":0},
{"s":"3655","x":-109,"d":0},{"s":"3655","x":-95,"d":0.11},{"s":"3655","x":-79,"d":0.85},{"s":"3655","x":-66,"d":2.04},{"s":"3655","x":-55,"d":2.6},{"s":"3655","x":-44,"d":2.04},{"s":"3655","x":-31,"d":0.85},{"s":"3655","x":-15,"d":0.11},{"s":"3655","x":15,"d":0},
{"s":"3634","x":-124,"d":0},{"s":"3634","x":-91,"d":0.1},{"s":"3634","x":-73,"d":0.74},{"s":"3634","x":-59,"d":1.79},{"s":"3634","x":-46,"d":2.28},{"s":"3634","x":-33,"d":1.79},{"s":"3634","x":-19,"d":0.74},{"s":"3634","x":-1,"d":0.1},{"s":"3634","x":29,"d":0},
{"s":"5084","x":-119,"d":0},{"s":"5084","x":-60,"d":0.05},{"s":"5084","x":-20,"d":0.3},{"s":"5084","x":10,"d":0.7},{"s":"5084","x":29,"d":0.88},{"s":"5084","x":60,"d":0.7},{"s":"5084","x":100,"d":0.35},{"s":"5084","x":140,"d":0.12},{"s":"5084","x":191,"d":0},
{"s":"4773","x":-145,"d":0},{"s":"4773","x":-110,"d":0.1},{"s":"4773","x":-92,"d":0.76},{"s":"4773","x":-78,"d":1.82},{"s":"4773","x":-65,"d":2.33},{"s":"4773","x":-52,"d":1.82},{"s":"4773","x":-38,"d":0.76},{"s":"4773","x":-20,"d":0.1},{"s":"4773","x":-7,"d":0},
{"s":"5090","x":-65,"d":0},{"s":"5090","x":-50,"d":0.05},{"s":"5090","x":-10,"d":0.34},{"s":"5090","x":22,"d":0.82},{"s":"5090","x":50,"d":1.05},{"s":"5090","x":78,"d":0.82},{"s":"5090","x":110,"d":0.34},{"s":"5090","x":150,"d":0.05},{"s":"5090","x":167,"d":0},
{"s":"5091","x":-7,"d":0},{"s":"5091","x":27,"d":0.07},{"s":"5091","x":53,"d":0.53},{"s":"5091","x":74,"d":1.28},{"s":"5091","x":92,"d":1.63},{"s":"5091","x":110,"d":1.28},{"s":"5091","x":131,"d":0.53},{"s":"5091","x":157,"d":0.07},{"s":"5091","x":164,"d":0},
{"s":"5076","x":-34,"d":0},{"s":"5076","x":-15,"d":0.1},{"s":"5076","x":-3,"d":0.14},{"s":"5076","x":10,"d":1},{"s":"5076","x":21,"d":2.43},{"s":"5076","x":30,"d":3.1},{"s":"5076","x":39,"d":2.43},{"s":"5076","x":50,"d":1},{"s":"5076","x":63,"d":0.14},{"s":"5076","x":70,"d":0},
{"s":"5075","x":-25,"d":0},{"s":"5075","x":0,"d":0.05},{"s":"5075","x":15,"d":0.12},{"s":"5075","x":30,"d":0.91},{"s":"5075","x":42,"d":2.19},{"s":"5075","x":52,"d":2.8},{"s":"5075","x":62,"d":2.19},{"s":"5075","x":74,"d":0.91},{"s":"5075","x":90,"d":0.12},{"s":"5075","x":95,"d":0},
{"s":"6822","x":-183,"d":0},{"s":"6822","x":-120,"d":0.08},{"s":"6822","x":-50,"d":0.17},{"s":"6822","x":0,"d":0.24},{"s":"6822","x":47,"d":0.31},{"s":"6822","x":100,"d":0.28},{"s":"6822","x":200,"d":0.2},{"s":"6822","x":300,"d":0.12},{"s":"6822","x":400,"d":0.06},{"s":"6822","x":463,"d":0},
{"s":"10251","x":-65,"d":0},{"s":"10251","x":-25,"d":0.1},{"s":"10251","x":0,"d":0.33},{"s":"10251","x":20,"d":0.6},{"s":"10251","x":38,"d":0.75},{"s":"10251","x":56,"d":0.6},{"s":"10251","x":76,"d":0.3},{"s":"10251","x":95,"d":0.08},{"s":"10251","x":110,"d":0},
{"s":"10251","g":1,"x":-627,"d":0},{"s":"10251","g":1,"x":-580,"d":0.1},{"s":"10251","g":1,"x":-546,"d":0.2},{"s":"10251","g":1,"x":-480,"d":0.18},{"s":"10251","g":1,"x":-420,"d":0.17},{"s":"10251","g":1,"x":-350,"d":0.1},{"s":"10251","g":1,"x":-280,"d":0},
{"s":"6823","x":-102,"d":0},{"s":"6823","x":0,"d":0.04},{"s":"6823","x":100,"d":0.1},{"s":"6823","x":170,"d":0.22},{"s":"6823","x":220,"d":0.3},{"s":"6823","x":300,"d":0.34},{"s":"6823","x":360,"d":0.3},{"s":"6823","x":400,"d":0.15},{"s":"6823","x":450,"d":0.05},{"s":"6823","x":496,"d":0}
]
},
"hconcat":[
{"width":259,"height":742,"data":{"name":"A"},
"title":{"text":"Zone A","anchor":"start","frame":"group","fontSize":26,"fontWeight":"bold","color":"#000000","font":"Liberation Sans","dx":3,"offset":6},
"encoding":{
"x":{"field":"x","type":"quantitative","stack":null,"scale":{"domain":[-1695,1643],"nice":false,"zero":false},"axis":{"values":[-1000,0,1000],"title":null,"labelPadding":8,"labelFlush":false,"labelOverlap":false,"labelExpr":"'' + datum.value"}},
"y":{"field":"s","type":"nominal","scale":{"type":"point","domain":["4099","4078","4109","4120","3728","4232","4096","4094","4100","4097","4121","4081","3830","4104","4093","4788","4079","4124","6880","4080","4119","4789","4101","4780","6873","6874","6872","6875","1020","1019"],"padding":0,"range":[106.7,729.6]},"axis":{"title":"Sensor ID","titleAnchor":null,"titleY":0,"titleAlign":"right","titleAngle":-90,"titlePadding":7,"labelPadding":4}},
"yOffset":{"field":"d","type":"quantitative","scale":{"domain":[0,1],"range":[0,-21.48],"nice":false,"zero":false}},
"detail":[{"field":"s"},{"field":"g"}]},
"layer":[
{"mark":{"type":"area","orient":"vertical","interpolate":"monotone","fill":"#F4817B","fillOpacity":1,"strokeWidth":0},"encoding":{"y2":{"field":"s"}}},
{"mark":{"type":"line","orient":"vertical","interpolate":"monotone","stroke":"#111111","strokeWidth":1.1}}
]},
{"width":259,"height":742,"data":{"name":"B"},
"title":{"text":"Zone B","anchor":"start","frame":"group","fontSize":26,"fontWeight":"bold","color":"#000000","font":"Liberation Sans","dx":3,"offset":6},
"encoding":{
"x":{"field":"x","type":"quantitative","stack":null,"scale":{"domain":[-1354,1326],"nice":false,"zero":false},"axis":{"values":[-1000,-500,0,500,1000],"title":null,"labelPadding":8,"labelFlush":false,"labelOverlap":false,"labelExpr":"'' + datum.value"}},
"y":{"field":"s","type":"nominal","scale":{"type":"point","domain":["4207","4177","4160","4144","4152","4148","4176","4111","4208","4178","4162","3692","4190","4165","3464","3463","4209","4166","3653","4197","4110","4164","3654","7137","3691","7139","3718","4173","7136","7138"],"padding":0,"range":[106.7,729.6]},"axis":{"title":null,"labelPadding":4}},
"yOffset":{"field":"d","type":"quantitative","scale":{"domain":[0,1],"range":[0,-21.48],"nice":false,"zero":false}},
"detail":[{"field":"s"},{"field":"g"}]},
"layer":[
{"mark":{"type":"area","orient":"vertical","interpolate":"monotone","fill":"#F4817B","fillOpacity":1,"strokeWidth":0},"encoding":{"y2":{"field":"s"}}},
{"mark":{"type":"line","orient":"vertical","interpolate":"monotone","stroke":"#111111","strokeWidth":1.1}}
]},
{"width":259,"height":742,"data":{"name":"C"},
"title":{"text":"Zone C","anchor":"start","frame":"group","fontSize":26,"fontWeight":"bold","color":"#000000","font":"Liberation Sans","dx":3,"offset":6},
"encoding":{
"x":{"field":"x","type":"quantitative","stack":null,"scale":{"domain":[-1108,681],"nice":false,"zero":false},"axis":{"values":[-1000,-500,0,500],"title":null,"labelPadding":8,"labelFlush":false,"labelOverlap":false,"labelExpr":"'' + datum.value"}},
"y":{"field":"s","type":"nominal","scale":{"type":"point","domain":["10099","5765","5764","10193","3976","4650","4623","3961","5766","3966","10170","4004","3973","5763","3950","3975","3978","3977","3958","4224","10098","5081","3970","3435","4008","3992","3969","3967","3968","5762"],"padding":0,"range":[106.7,729.6]},"axis":{"title":null,"labelPadding":5}},
"yOffset":{"field":"d","type":"quantitative","scale":{"domain":[0,1],"range":[0,-21.48],"nice":false,"zero":false}},
"detail":[{"field":"s"},{"field":"g"}]},
"layer":[
{"mark":{"type":"area","orient":"vertical","interpolate":"monotone","fill":"#F4817B","fillOpacity":1,"strokeWidth":0},"encoding":{"y2":{"field":"s"}}},
{"mark":{"type":"line","orient":"vertical","interpolate":"monotone","stroke":"#111111","strokeWidth":1.1}}
]},
{"width":259,"height":742,"data":{"name":"D"},
"title":{"text":"Zone D","anchor":"start","frame":"group","fontSize":26,"fontWeight":"bold","color":"#000000","font":"Liberation Sans","dx":3,"offset":6},
"encoding":{
"x":{"field":"x","type":"quantitative","stack":null,"scale":{"domain":[-833,562],"nice":false,"zero":false},"axis":{"values":[-750,-500,-250,0,250,500],"title":null,"labelPadding":8,"labelFlush":false,"labelOverlap":false,"labelExpr":"'' + datum.value"}},
"y":{"field":"s","type":"nominal","scale":{"type":"point","domain":["10257","5068","4782","5138","3479","5087","5139","5079","3633","5098","4776","4777","5092","5069","4781","5088","5085","5064","5078","3655","3634","5084","4773","5090","5091","5076","5075","6822","10251","6823"],"padding":0,"range":[106.7,729.6]},"axis":{"title":null,"labelPadding":4}},
"yOffset":{"field":"d","type":"quantitative","scale":{"domain":[0,1],"range":[0,-21.48],"nice":false,"zero":false}},
"detail":[{"field":"s"},{"field":"g"}]},
"layer":[
{"mark":{"type":"area","orient":"vertical","interpolate":"monotone","fill":"#F4817B","fillOpacity":1,"strokeWidth":0},"encoding":{"y2":{"field":"s"}}},
{"mark":{"type":"line","orient":"vertical","interpolate":"monotone","stroke":"#111111","strokeWidth":1.1}}
]}
]
}
